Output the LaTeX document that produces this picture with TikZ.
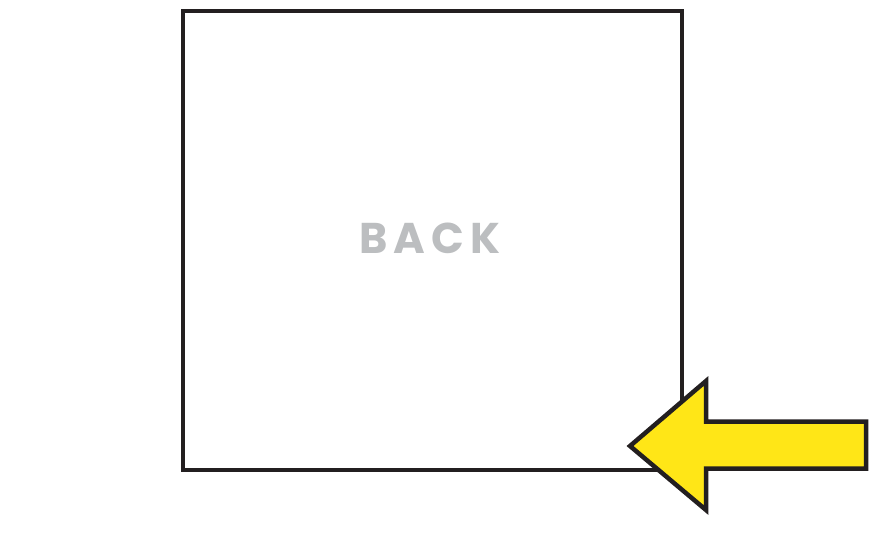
\documentclass[tikz,border=0pt]{standalone}
\usepackage{fontspec}
\setmainfont{Poppins}
\usetikzlibrary{positioning}
\definecolor{inkdark}{HTML}{231F20}
\definecolor{signyellow}{HTML}{FFE617}
\definecolor{labelgray}{HTML}{BCBEC0}
\tikzset{
  panel/.style={draw=inkdark,line width=4pt,minimum width=499pt,minimum height=459pt,inner sep=0pt},
  sidelabel/.style={text=labelgray,font=\fontsize{43}{43}\selectfont\bfseries\addfontfeatures{LetterSpace=14}},
  pointer/.style={draw=inkdark,fill=signyellow,line width=4.5pt,line join=miter}
}

\begin{document}
\begin{tikzpicture}[x=1pt,y=-1pt]
  \useasboundingbox (0,0) rectangle (881,544);
  % the back side of the box
  \node[panel] (back) at (432.5,240.5) {};
  \node[sidelabel] (backtext) at (430,238) {BACK};
  % arrow pointing at the lower right corner
  \coordinate (tip) at (630,446);
  \draw[pointer] (tip) -- (706,381) -- (706,421.5) -- (866,421.5)
    -- (866,468.5) -- (706,468.5) -- (706,510) -- cycle;
\end{tikzpicture}
\end{document}
